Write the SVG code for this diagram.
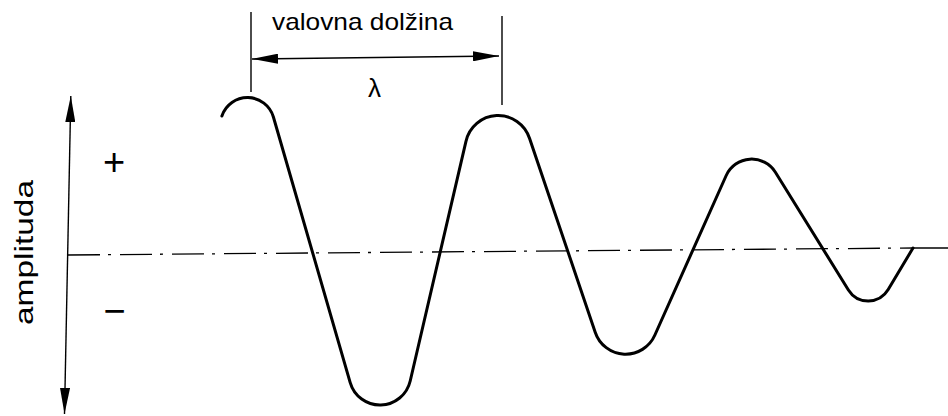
<svg xmlns="http://www.w3.org/2000/svg" width="948" height="416" viewBox="0 0 948 416">
  <style>
    .txt { font-family: "Liberation Sans", Arial, sans-serif; fill: #000; }
    .thin { stroke: #000; stroke-width: 1.4; fill: none; }
    .wave { stroke: #000; stroke-width: 3; fill: none; stroke-linejoin: round; stroke-linecap: round; }
    .axis0 { stroke: #000; stroke-width: 1.3; fill: none; stroke-dasharray: 32 8 3 9; }
  </style>
  <defs>
    <marker id="arr" markerUnits="userSpaceOnUse" viewBox="0 0 26 10" markerWidth="26" markerHeight="10" refX="26" refY="5" orient="auto-start-reverse">
      <path d="M0,0 L26,5 L0,10 z" fill="#000"/>
    </marker>
  </defs>
  <rect width="948" height="416" fill="#fff"/>

  <g id="connectors">
    <!-- amplitude axis -->
    <line class="thin" x1="70.8" y1="96" x2="64.5" y2="414" marker-start="url(#arr)" marker-end="url(#arr)"/>
    <!-- zero line -->
    <line class="axis0" x1="68" y1="255" x2="913" y2="248"/>
    <line class="thin" x1="913" y1="248" x2="948" y2="248"/>
    <!-- dimension extension lines -->
    <line class="thin" x1="251" y1="12" x2="251" y2="92"/>
    <line class="thin" x1="502" y1="16" x2="502" y2="105"/>
    <!-- wavelength dimension arrow -->
    <line class="thin" x1="252" y1="59" x2="499" y2="56" marker-start="url(#arr)" marker-end="url(#arr)"/>
  </g>

  <g id="wave">
    <path class="wave" d="M221.9,116 A27,27 0 0 1 273.4,117 L350.2,382.6 A31,31 0 0 0 410.2,381 L465.9,141.6 A33,33 0 0 1 529.6,138.5 L595.2,332.2 A32,32 0 0 0 654.9,335 L726.2,175.5 A28,28 0 0 1 775.4,172.2 L848.4,290 A23.3,23.3 0 0 0 888.2,289.6 L913,248"/>
  </g>

  <g id="label-wavelength">
    <text class="txt" x="272" y="30" font-size="24" textLength="181" lengthAdjust="spacingAndGlyphs">valovna dolžina</text>
  </g>
  <g id="label-lambda">
    <text class="txt" x="374.5" y="97" font-size="26" text-anchor="middle">λ</text>
  </g>
  <g id="label-amplitude">
    <text class="txt" transform="translate(33,252.5) rotate(-90)" x="0" y="0" font-size="26" text-anchor="middle" textLength="145" lengthAdjust="spacingAndGlyphs">amplituda</text>
  </g>
  <g id="label-plus">
    <text class="txt" x="114" y="175" font-size="38" text-anchor="middle">+</text>
  </g>
  <g id="label-minus">
    <text class="txt" x="114.5" y="324" font-size="38" text-anchor="middle">−</text>
  </g>
</svg>
